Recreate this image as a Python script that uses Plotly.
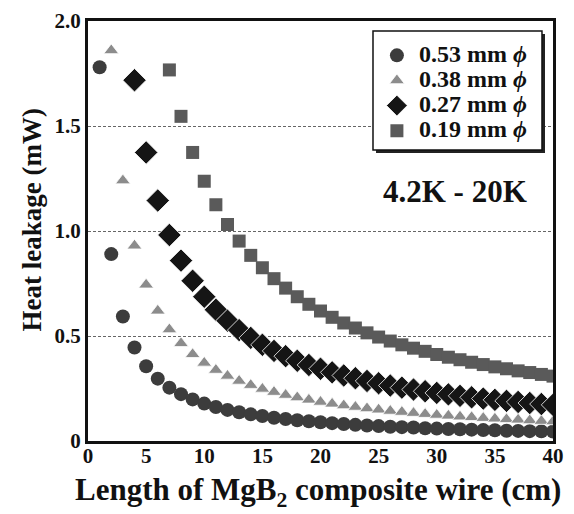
import plotly.graph_objects as go

# Data (length in cm, heat leakage in mW)
x_053 = list(range(1, 41))
y_053 = [1.78, 0.89, 0.593, 0.445, 0.356, 0.297, 0.254, 0.223, 0.198, 0.178,
         0.162, 0.148, 0.137, 0.127, 0.119, 0.111, 0.105, 0.099, 0.094, 0.089,
         0.085, 0.081, 0.077, 0.074, 0.071, 0.068, 0.066, 0.064, 0.061, 0.059,
         0.057, 0.056, 0.054, 0.052, 0.051, 0.049, 0.048, 0.047, 0.046, 0.045]

x_038 = list(range(2, 41))
y_038 = [1.86, 1.24, 0.93, 0.744, 0.62, 0.531, 0.465, 0.413, 0.372,
         0.338, 0.31, 0.286, 0.266, 0.248, 0.233, 0.219, 0.207, 0.196, 0.186,
         0.177, 0.169, 0.162, 0.155, 0.149, 0.143, 0.138, 0.133, 0.128, 0.124,
         0.12, 0.116, 0.113, 0.109, 0.106, 0.103, 0.101, 0.098, 0.095, 0.093]

x_027 = list(range(4, 41))
y_027 = [1.718, 1.374, 1.145, 0.981, 0.859, 0.763, 0.687,
         0.625, 0.573, 0.528, 0.491, 0.458, 0.429, 0.404, 0.382, 0.362, 0.344,
         0.327, 0.312, 0.299, 0.286, 0.275, 0.264, 0.254, 0.245, 0.237, 0.229,
         0.222, 0.215, 0.208, 0.202, 0.196, 0.191, 0.186, 0.181, 0.176, 0.172]

x_019 = list(range(7, 41))
y_019 = [1.767, 1.546, 1.374, 1.237,
         1.125, 1.031, 0.952, 0.884, 0.825, 0.773, 0.728, 0.687, 0.651, 0.619,
         0.589, 0.562, 0.538, 0.515, 0.495, 0.476, 0.458, 0.442, 0.427, 0.412,
         0.399, 0.387, 0.375, 0.364, 0.353, 0.344, 0.334, 0.326, 0.317, 0.309]

series_names = ["0.53 mm <i>ϕ</i>", "0.38 mm <i>ϕ</i>", "0.27 mm <i>ϕ</i>", "0.19 mm <i>ϕ</i>"]
x_ticks = [0, 5, 10, 15, 20, 25, 30, 35, 40]
x_ticktext = ["0", "5", "10", "15", "20", "25", "30", "35", "40"]
y_ticks = [0, 0.5, 1.0, 1.5, 2.0]
y_ticktext = ["0", "0.5", "1.0", "1.5", "2.0"]

FONT = "Liberation Serif"
INK = "#111111"

fig = go.Figure()
styles = [
    dict(symbol="circle", size=14, color="#3c3c3c", line=dict(width=0)),
    dict(symbol="triangle-up", size=13, color="#8c8c8c", line=dict(width=0.8, color="white")),
    dict(symbol="diamond", size=18, color="#151515", line=dict(width=0.8, color="white")),
    dict(symbol="square", size=13, color="#5a5a5a", line=dict(width=0)),
]
for xs, ys, name, st in zip([x_053, x_038, x_027, x_019],
                            [y_053, y_038, y_027, y_019],
                            series_names, styles):
    fig.add_trace(go.Scatter(
        x=xs, y=ys, mode="markers",
        name='<span style="font-size:24px"><b>' + name + '</b></span>',
        marker=st))

bold = lambda s: "<b>" + s + "</b>"

fig.update_layout(
    width=574, height=514,
    margin=dict(l=88, r=21, t=21, b=73),
    paper_bgcolor="white", plot_bgcolor="white",
    font=dict(family=FONT, color=INK),
    showlegend=True,
    legend=dict(
        x=0.617, y=0.96, xanchor="left", yanchor="top",
        bgcolor="rgba(0,0,0,0)", borderwidth=0,
        font=dict(family=FONT, size=17, color=INK),
        tracegroupgap=0, itemsizing="trace", itemwidth=34,
    ),
    xaxis=dict(
        range=[0, 40], tickvals=x_ticks, ticktext=[bold(t) for t in x_ticktext],
        ticks="", showgrid=False, automargin=False, ticklabelstandoff=-6,
        showline=True, linecolor=INK, linewidth=3, mirror=True,
        zeroline=False,
        tickfont=dict(family=FONT, size=21, color=INK),
    ),
    yaxis=dict(
        range=[0, 2.0], tickvals=y_ticks, ticktext=[bold(t) for t in y_ticktext],
        ticks="", automargin=False,
        showgrid=True, gridcolor="#666", gridwidth=1, griddash="3px,2px",
        showline=True, linecolor=INK, linewidth=3, mirror=True,
        zeroline=False,
        tickfont=dict(family=FONT, size=21, color=INK),
    ),
    shapes=[
        # legend box shadow and frame
        dict(type="rect", xref="paper", yref="paper", layer="above",
             x0=0.6194, x1=0.9828, y0=0.6857, y1=0.969,
             fillcolor="#222", line=dict(width=0)),
        dict(type="rect", xref="paper", yref="paper", layer="above",
             x0=0.6129, x1=0.9763, y0=0.6929, y1=0.9762,
             fillcolor="white", line=dict(color=INK, width=1.5)),
    ],
    annotations=[
        dict(text="<b>4.2K - 20K</b>", x=0.789, y=0.593, xref="paper", yref="paper",
             showarrow=False, xanchor="center", yanchor="middle",
             font=dict(family=FONT, size=31, color=INK)),
        dict(text="<b>Length of MgB<sub>2</sub> composite wire (cm)</b>",
             x=0.495, y=-0.1738, xref="paper", yref="paper",
             showarrow=False, xanchor="center", yanchor="bottom",
             font=dict(family=FONT, size=31, color=INK)),
        dict(text="<b>Heat leakage (mW)</b>", textangle=-90,
             x=0, y=0.525, xref="paper", yref="paper", xshift=-57,
             showarrow=False, xanchor="center", yanchor="middle",
             font=dict(family=FONT, size=27, color=INK)),
    ],
)

fig.write_html("out.html", config={"displayModeBar": False},
               post_script="document.body.style.margin='0px';")
